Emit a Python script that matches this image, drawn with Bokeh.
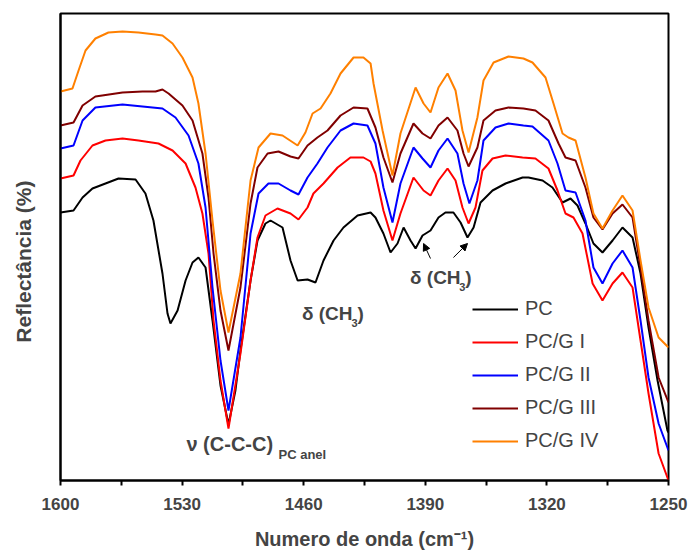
from bokeh.plotting import figure
from bokeh.models import (Range1d, FixedTicker, Legend, LegendItem, Label, Arrow, NormalHead)
from bokeh.embed import file_html
from bokeh.resources import INLINE

# ---------------- data (wavenumber in cm-1, reflectance in arbitrary offset units) -------------
pc_x = [1600, 1592.5, 1587.3, 1581.6, 1574.1, 1566.6, 1556.8, 1551.1, 1546.5, 1541.3, 1538.4,
        1536.7, 1532.6, 1528.0, 1524.0, 1520.6, 1516.5, 1512.5, 1507.9, 1503.3, 1499.3, 1496.4,
        1490.6, 1486.6, 1482.0, 1479.1, 1472.2, 1467.6, 1463.5, 1457.8, 1453.2, 1448.6, 1442.8,
        1437.1, 1429.0, 1421.5, 1418.7, 1414.1, 1410.0, 1406.0, 1402.5, 1398.5, 1395.6, 1391.6,
        1387.0, 1382.4, 1378.4, 1373.8, 1369.7, 1365.7, 1362.2, 1358.2, 1351.3, 1343.8, 1334.0,
        1330.6, 1322.5, 1316.8, 1311.0, 1306.4, 1302.4, 1297.8, 1293.2, 1288.0, 1282.2, 1276.5,
        1270.7, 1266.1, 1261.5, 1256.3, 1250.6, 1250]
pc_y = [268, 270, 283, 292, 297, 302, 301, 287, 260, 207, 167,
        157, 170, 200, 218, 223, 213, 160, 95, 56, 90, 130,
        200, 240, 257, 260, 253, 220, 200, 201, 198, 220, 240,
        253, 265, 268, 263, 247, 228, 237, 253, 240, 232, 245,
        250, 263, 268, 268, 258, 243, 253, 278, 290, 297, 303,
        303, 300, 293, 278, 282, 275, 257, 237, 228, 240, 253,
        243, 207, 153, 100, 50, 48]

g1_x = [1600, 1592.5, 1588.5, 1581.6, 1574.1, 1564.3, 1555.1, 1543.6, 1535.5, 1528.0, 1522.3,
        1518.3, 1514.8, 1511.9, 1507.9, 1503.3, 1496.4, 1490.6, 1486.6, 1482.0, 1475.1, 1467.6,
        1463.0, 1457.8, 1454.4, 1448.6, 1440.5, 1433.1, 1425.6, 1421.5, 1418.7, 1414.1, 1408.9,
        1404.3, 1396.8, 1391.0, 1387.0, 1382.4, 1377.2, 1372.6, 1368.6, 1365.1, 1361.1, 1357.1,
        1351.3, 1343.8, 1334.0, 1326.6, 1319.1, 1313.9, 1309.3, 1304.7, 1299.5, 1293.7, 1288.0,
        1282.2, 1276.5, 1270.7, 1266.1, 1261.5, 1255.7, 1250]
g1_y = [302, 305, 320, 335, 340, 342, 340, 337, 330, 317, 293,
        267, 227, 160, 100, 52, 127, 200, 243, 265, 272, 267,
        261, 273, 287, 297, 313, 323, 323, 319, 307, 270, 240,
        267, 303, 290, 285, 300, 312, 300, 273, 257, 273, 310,
        322, 325, 323, 322, 312, 290, 267, 263, 247, 197, 180,
        197, 208, 193, 140, 87, 27, 0]

g2_x = [1600, 1592.5, 1587.3, 1579.9, 1564.3, 1552.8, 1541.3, 1533.8, 1526.3, 1520.6, 1516.5,
        1512.5, 1507.9, 1503.3, 1496.4, 1490.6, 1486.0, 1480.3, 1474.5, 1467.6, 1463.0, 1457.8,
        1452.1, 1446.3, 1438.8, 1431.3, 1423.3, 1418.7, 1414.1, 1408.9, 1404.3, 1396.8, 1391.6,
        1387.0, 1382.4, 1377.2, 1371.5, 1368.0, 1364.6, 1360.0, 1356.5, 1349.6, 1342.1, 1333.5,
        1328.3, 1319.1, 1313.9, 1309.3, 1303.5, 1297.8, 1293.2, 1288.0, 1282.2, 1276.5, 1270.7,
        1266.1, 1261.5, 1255.7, 1250]
g2_y = [332, 335, 360, 373, 376, 374, 372, 363, 345, 317, 273,
        193, 120, 70, 143, 247, 287, 297, 297, 290, 286, 303,
        317, 333, 350, 357, 355, 337, 293, 258, 297, 333, 322,
        313, 330, 342, 327, 297, 277, 300, 340, 353, 357, 355,
        354, 340, 317, 290, 288, 260, 213, 197, 217, 230, 213,
        160, 103, 57, 30]

g3_x = [1600, 1592.5, 1587.3, 1579.9, 1564.3, 1552.8, 1545.3, 1541.3, 1537.8, 1529.8, 1524.0,
        1518.3, 1514.8, 1511.9, 1507.9, 1503.3, 1496.4, 1490.6, 1486.6, 1480.8, 1474.5, 1467.6,
        1463.0, 1457.8, 1452.1, 1446.3, 1438.8, 1431.3, 1423.3, 1418.7, 1414.1, 1408.9, 1404.3,
        1396.8, 1391.6, 1387.0, 1382.4, 1377.2, 1371.5, 1368.0, 1365.1, 1360.0, 1356.5, 1349.6,
        1342.1, 1333.5, 1326.6, 1319.1, 1313.3, 1309.3, 1303.5, 1297.8, 1293.2, 1288.0, 1282.2,
        1276.5, 1270.7, 1266.1, 1261.5, 1255.7, 1250]
g3_y = [355, 358, 375, 384, 388, 389, 389, 391, 387, 375, 360,
        327, 283, 227, 170, 130, 193, 277, 313, 327, 329, 324,
        322, 335, 343, 350, 365, 373, 372, 353, 323, 298, 327,
        357, 347, 342, 355, 363, 350, 327, 314, 333, 360, 370,
        373, 372, 370, 360, 337, 323, 320, 293, 263, 251, 267,
        276, 263, 213, 160, 103, 78]

g4_x = [1600, 1593.1, 1589.6, 1585.6, 1579.9, 1572.4, 1564.3, 1555.1, 1545.3, 1541.3, 1535.5,
        1529.8, 1524.0, 1520.6, 1516.5, 1512.5, 1507.9, 1503.3, 1496.4, 1490.6, 1486.0, 1479.1,
        1472.2, 1463.5, 1459.0, 1454.9, 1450.3, 1444.6, 1438.8, 1431.3, 1425.6, 1421.5, 1419.8,
        1414.6, 1408.9, 1404.3, 1395.6, 1391.0, 1387.0, 1382.4, 1377.2, 1372.6, 1368.6, 1365.1,
        1360.0, 1356.5, 1350.7, 1342.1, 1333.5, 1328.3, 1320.8, 1316.2, 1311.0, 1307.6, 1303.5,
        1297.8, 1293.2, 1288.0, 1282.2, 1276.5, 1270.7, 1266.1, 1261.5, 1255.7, 1250]
g4_y = [389, 392, 410, 430, 442, 448, 449, 448, 446, 445, 437,
        423, 403, 377, 327, 260, 190, 148, 207, 300, 333, 347,
        345, 335, 348, 367, 372, 387, 407, 423, 423, 417, 397,
        350, 305, 347, 393, 377, 368, 393, 407, 390, 350, 328,
        363, 400, 418, 424, 422, 418, 403, 377, 347, 343, 340,
        303, 267, 252, 270, 285, 270, 220, 173, 143, 133]

series_names = ["PC", "PC/G I", "PC/G II", "PC/G III", "PC/G IV"]
series_colors = ["#000000", "#ff0000", "#0000ff", "#800000", "#ff8000"]
x_ticks = [1600, 1530, 1460, 1390, 1320, 1250]
x_minor = [1565, 1495, 1425, 1355, 1285]

FONT = "Liberation Sans"

p = figure(width=690, height=553, output_backend="svg", toolbar_location=None,
           x_range=Range1d(1600, 1250), y_range=Range1d(0, 467),
           min_border_left=60, min_border_right=22, min_border_top=13, min_border_bottom=73)
p.grid.visible = False
p.outline_line_color = "black"
p.outline_line_width = 2

xs = [pc_x, g1_x, g2_x, g3_x, g4_x]
ys = [pc_y, g1_y, g2_y, g3_y, g4_y]
renderers = []
for x, y, c in zip(xs, ys, series_colors):
    renderers.append(p.line(x, y, line_color=c, line_width=2))

# x axis
xa = p.xaxis[0]
xa.ticker = FixedTicker(ticks=x_ticks, minor_ticks=x_minor)
xa.axis_line_width = 2
xa.major_tick_in = 0
xa.major_tick_out = 5
xa.minor_tick_in = 0
xa.minor_tick_out = 5
xa.major_tick_line_width = 2
xa.minor_tick_line_width = 2
xa.major_label_text_font = FONT
xa.major_label_text_font_style = "bold"
xa.major_label_text_font_size = "17px"
xa.major_label_standoff = 12
xa.axis_label = "Numero de onda (cm\u207b\u00b9)"
xa.axis_label_text_font = FONT
xa.axis_label_text_font_style = "bold"
xa.axis_label_text_font_size = "20px"
xa.axis_label_standoff = 15

# y axis
ya = p.yaxis[0]
ya.ticker = FixedTicker(ticks=[])
ya.axis_line_width = 2
ya.major_tick_out = 0
ya.minor_tick_out = 0
ya.axis_label = "Reflectância (%)" + "\u00a0" * 5
ya.axis_label_text_font = FONT
ya.axis_label_text_font_style = "bold"
ya.axis_label_text_font_size = "21px"
ya.axis_label_standoff = 26

# legend
legend = Legend(items=[LegendItem(label=n, renderers=[r]) for n, r in zip(series_names, renderers)],
                location=(412, 28), glyph_width=46, glyph_height=20, label_height=20,
                label_standoff=7, spacing=10, padding=0, margin=0,
                border_line_color=None, background_fill_alpha=0,
                label_text_font=FONT, label_text_font_size="20px")
p.add_layout(legend, "center")

# annotations
def lab(x, y, text, size, **kw):
    p.add_layout(Label(x=x, y=y, text=text, text_font=FONT, text_font_style="bold",
                       text_font_size=size, text_baseline="middle", **kw))

lab(1527.5, 37, "\u03bd (C-C-C)", "20px")
lab(1474.5, 26, "PC anel", "13px")

lab(1461.0, 167, "\u03b4 (CH", "19px")
lab(1432.5, 158, "3", "11px")
lab(1429.0, 167, ")", "19px")

lab(1398.8, 203, "\u03b4 (CH", "19px")
lab(1370.5, 194, "3", "11px")
lab(1367.0, 203, ")", "19px")

for (xs0, ys0, xe, ye) in [(1387.0, 222, 1391.0, 237), (1373.8, 223, 1365.7, 237)]:
    p.add_layout(Arrow(x_start=xs0, y_start=ys0, x_end=xe, y_end=ye, line_width=1,
                       end=NormalHead(size=7, fill_color="black", line_color="black")))

open("out.html", "w").write(file_html(p, INLINE))
